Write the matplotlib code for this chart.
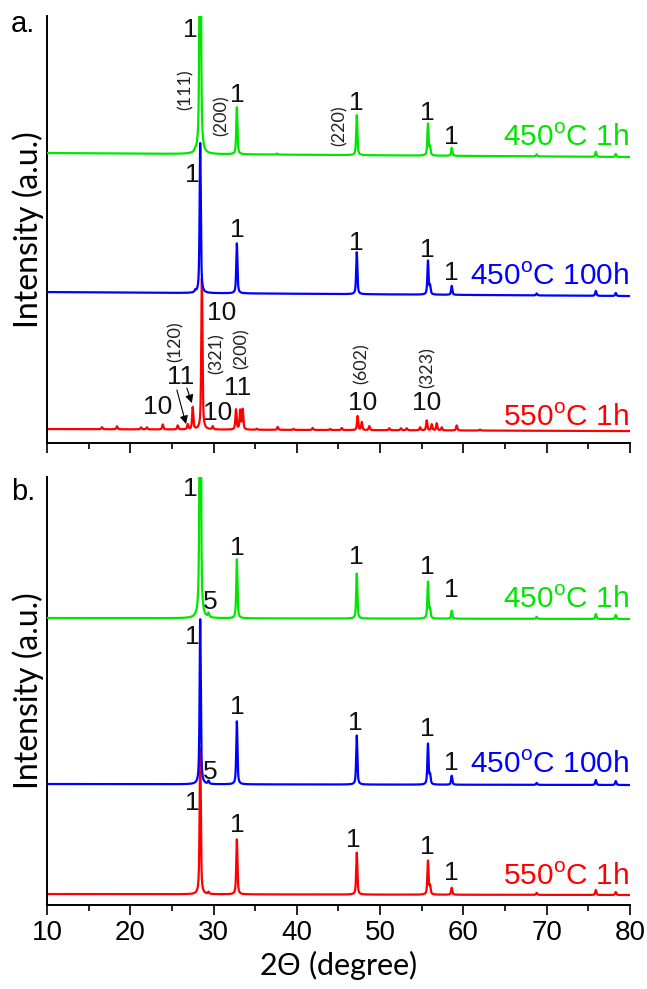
import numpy as np
import matplotlib
matplotlib.use("Agg")
import matplotlib.pyplot as plt
from matplotlib.ticker import MultipleLocator

plt.rcParams['font.family'] = ['Liberation Sans', 'DejaVu Sans']
plt.rcParams['mathtext.fontset'] = 'custom'
plt.rcParams['mathtext.rm'] = 'Liberation Sans'

GREEN = '#00e600'
BLUE = '#0000ff'
RED = '#ff0000'

# ---- 2-theta grid ----
two_theta = np.linspace(10, 80, 3501)

# ---- panel a: peak tables (position in degrees, height in a.u.) ----
green_a_base = (290, 286)
green_a_pos = [27.8, 28.4, 32.8, 37.6, 47.2, 55.75, 56.0, 58.6, 68.8, 75.9, 78.3]
green_a_h = [2, 420, 47, 1, 40, 32, 8, 8, 2, 5, 3]

blue_a_base = (151, 147)
blue_a_pos = [27.8, 28.4, 32.8, 47.2, 55.75, 56.0, 58.6, 68.8, 75.9, 78.3]
blue_a_h = [2, 150, 50, 42, 34, 8, 9, 2, 5, 3]

red_a_base = (14, 12)
red_a_pos = [16.6, 18.4, 21.3, 22.0, 23.9, 25.7, 26.9, 27.5, 28.6, 29.9,
             32.7, 33.2, 33.5, 35.2, 37.7, 39.6, 41.9, 44.0, 45.4, 47.3,
             47.8, 48.7, 51.1, 52.5, 53.2, 54.8, 55.6, 56.2, 56.8, 57.4,
             59.2, 62.0]
red_a_h = [2, 3, 2, 2, 5, 4, 5, 22, 151, 3,
           20, 19, 20, 1, 3, 1, 2, 1, 2, 14,
           8, 4, 2, 2, 2, 3, 10, 6, 7, 3,
           5, 1]

# ---- panel b: peak tables ----
green_b_base = (287, 286)
green_b_pos = [28.4, 29.4, 32.8, 47.2, 55.75, 56.0, 58.6, 68.8, 75.9, 78.3]
green_b_h = [400, 4, 59, 45, 37, 9, 8, 2, 5, 4]

blue_b_base = (121, 120)
blue_b_pos = [28.4, 29.4, 32.8, 47.2, 55.75, 56.0, 58.6, 68.8, 75.9, 78.3]
blue_b_h = [165, 3, 63, 49, 41, 9, 9, 2, 5, 4]

red_b_base = (11, 10)
red_b_pos = [28.4, 29.4, 32.8, 47.2, 55.75, 56.0, 58.6, 68.8, 75.9, 78.3]
red_b_h = [146, 2, 55, 42, 34, 8, 7, 2, 5, 3]

# ---- annotations ----
sample_names = [r'450$^{\mathrm{o}}$C 1h', r'450$^{\mathrm{o}}$C 100h', r'550$^{\mathrm{o}}$C 1h']

# phase-number labels: (text, x, y)
labels_a = [('1', 27.2, 413), ('1', 32.8, 348), ('1', 47.2, 340), ('1', 55.7, 330), ('1', 58.6, 306),
            ('1', 27.4, 268), ('1', 32.8, 213), ('1', 47.2, 200), ('1', 55.7, 193), ('1', 58.6, 170),
            ('10', 31.0, 130), ('11', 26.0, 66), ('11', 32.9, 55), ('10', 23.3, 36), ('10', 30.5, 30),
            ('10', 47.9, 40), ('10', 55.6, 40)]
hkl_a = [('(111)', 26.6, 353), ('(200)', 31.0, 327), ('(220)', 45.2, 317),
         ('(120)', 25.4, 101), ('(321)', 30.4, 89), ('(200)', 33.4, 94),
         ('(602)', 47.8, 79), ('(323)', 55.7, 76)]
arrows_a = [((25.6, 53), (26.7, 19)), ((26.8, 55), (27.4, 40))]
name_y_a = [305, 166, 25]

labels_b = [('1', 27.2, 416), ('1', 32.8, 357), ('5', 29.6, 303), ('1', 47.1, 348), ('1', 55.7, 338), ('1', 58.5, 315),
            ('1', 27.4, 268), ('1', 32.8, 198), ('5', 29.6, 133), ('1', 47.0, 182), ('1', 55.7, 176), ('1', 58.5, 142),
            ('1', 27.5, 102), ('1', 32.8, 80), ('1', 46.8, 65), ('1', 55.7, 58), ('1', 58.5, 32)]
name_y_b = [305, 140, 28]


def pattern(base, pos, h, fwhm=0.17, eta=0.65):
    y = np.interp(two_theta, [10, 80], base)
    g = fwhm / 2
    for p, a in zip(pos, h):
        d = two_theta - p
        lor = 1.0 / (1.0 + (d / g) ** 2)
        gau = np.exp(-np.log(2) * (d / g) ** 2)
        y = y + a * (eta * lor + (1 - eta) * gau)
    return y


fig = plt.figure(figsize=(6.47, 9.89), dpi=100)
ax_a = fig.add_axes([0.0726, 0.552, 0.901, 0.4318])
ax_b = fig.add_axes([0.0726, 0.0849, 0.901, 0.4328])

series_a = [(green_a_base, green_a_pos, green_a_h, GREEN),
            (blue_a_base, blue_a_pos, blue_a_h, BLUE),
            (red_a_base, red_a_pos, red_a_h, RED)]
series_b = [(green_b_base, green_b_pos, green_b_h, GREEN),
            (blue_b_base, blue_b_pos, blue_b_h, BLUE),
            (red_b_base, red_b_pos, red_b_h, RED)]

for ax, series, ylim in [(ax_a, series_a, 427), (ax_b, series_b, 428)]:
    for z, (base, pos, h, col) in enumerate(reversed(series)):
        ax.plot(two_theta, pattern(base, pos, h), color=col, lw=1.6, zorder=2 + z)
    ax.set_xlim(10, 80)
    ax.set_ylim(0, ylim)
    ax.spines['top'].set_visible(False)
    ax.spines['right'].set_visible(False)
    ax.spines['left'].set_linewidth(1.4)
    ax.spines['bottom'].set_linewidth(1.4)
    ax.set_yticks([])
    ax.xaxis.set_major_locator(MultipleLocator(10))
    ax.xaxis.set_minor_locator(MultipleLocator(5))
    ax.tick_params(axis='x', which='major', direction='out', length=7, width=1.2, labelsize=20)
    ax.tick_params(axis='x', which='minor', direction='out', length=4, width=1.2)
    ax.set_ylabel('Intensity (a.u.)', fontsize=23, family=['Lato', 'DejaVu Sans'], labelpad=2)

ax_a.tick_params(axis='x', labelbottom=False)
ax_b.set_xlabel(r'2$\Theta$ (degree)', fontsize=22, family=['Lato', 'DejaVu Sans'], labelpad=2)

cols = [GREEN, BLUE, RED]
for ax, name_y in [(ax_a, name_y_a), (ax_b, name_y_b)]:
    for name, y, c in zip(sample_names, name_y, cols):
        ax.text(79.9, y, name, color=c, fontsize=21.5, ha='right', va='center', zorder=10)

for ax, labels in [(ax_a, labels_a), (ax_b, labels_b)]:
    for t, x, y in labels:
        ax.text(x, y, t, fontsize=19, ha='center', va='center', color='#111111', zorder=10)

for t, x, y in hkl_a:
    ax_a.text(x, y, t, fontsize=13, rotation=90, ha='center', va='center',
              color='#222222', family=['Lato', 'DejaVu Sans'], zorder=10)

for (x0, y0), (x1, y1) in arrows_a:
    ax_a.annotate('', xy=(x1, y1), xytext=(x0, y0),
                  arrowprops=dict(arrowstyle='-|>', color='black', lw=0.8,
                                  mutation_scale=12, shrinkA=0, shrinkB=0), zorder=10)

fig.text(0.036, 0.976, 'a.', fontsize=21, ha='center', va='center')
fig.text(0.036, 0.503, 'b.', fontsize=21, ha='center', va='center')

fig.savefig('out.png', dpi=100, facecolor='white')
